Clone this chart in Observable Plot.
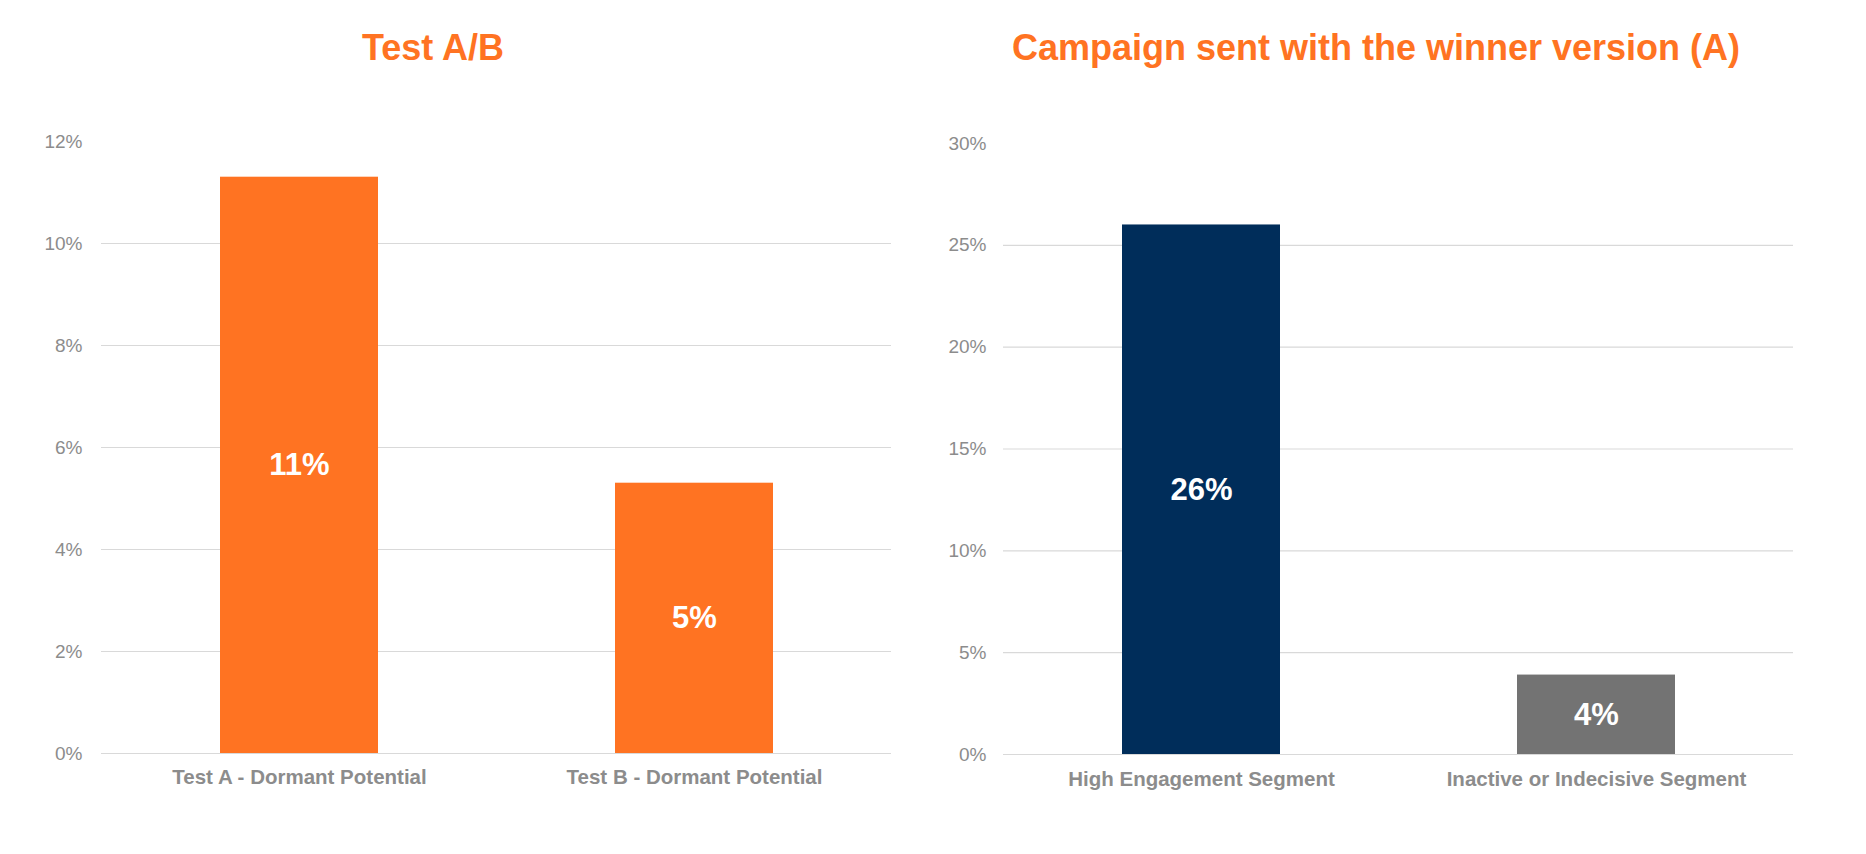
<!DOCTYPE html>
<html>
<head>
<meta charset="utf-8">
<script src="https://cdn.jsdelivr.net/npm/d3@7"></script>
<script src="https://cdn.jsdelivr.net/npm/@observablehq/plot@0.6"></script>
<style>
  html, body { margin: 0; padding: 0; background: #fff; }
  #wrap { position: relative; width: 1866px; height: 854px; overflow: hidden; font-family: "Liberation Sans", Arial, sans-serif; }
  .title { position: absolute; top: 30px; font-size: 36px; line-height: 36px; font-weight: bold; color: #FF7322; text-align: center; white-space: nowrap; }
  .chart { position: absolute; top: 0; }
</style>
</head>
<body>
<div id="wrap">
  <div class="title" style="left:33px;width:800px;">Test A/B</div>
  <div class="title" style="left:976px;width:800px;">Campaign sent with the winner version (A)</div>
  <div class="chart" id="left" style="left:0px;"></div>
  <div class="chart" id="right" style="left:933px;"></div>
</div>
<script>
// Left chart: Test A/B
const abCategories = ["Test A - Dormant Potential", "Test B - Dormant Potential"];
const abValues = [11.3, 5.3];
const abColors = ["#FF7322", "#FF7322"];
const abTicks = [0, 2, 4, 6, 8, 10, 12];

// Right chart: Campaign sent with the winner version (A)
const campCategories = ["High Engagement Segment", "Inactive or Indecisive Segment"];
const campValues = [26, 3.9];
const campColors = ["#002D5A", "#737373"];
const campTicks = [0, 5, 10, 15, 20, 25, 30];

function makeChart(cats, vals, cols, ticks, m) {
  const data = cats.map((c, i) => ({cat: c, v: vals[i], col: cols[i]}));
  const maxT = ticks[ticks.length - 1];
  return Plot.plot({
    width: 933,
    height: 854,
    marginLeft: m.left,
    marginRight: m.right,
    marginTop: m.top,
    marginBottom: m.bottom,
    style: {fontFamily: "'Liberation Sans', Arial, sans-serif", background: "transparent", overflow: "visible"},
    x: {domain: cats, paddingInner: 0.6, paddingOuter: 0.3, label: null},
    y: {domain: [0, maxT], label: null},
    marks: [
      Plot.ruleY(ticks.filter(t => t < maxT), {stroke: "#D9D9D9", strokeWidth: 1.2}),
      Plot.barY(data, {x: "cat", y: "v", fill: "col"}),
      Plot.text(data, {x: "cat", y: d => d.v / 2, text: d => Math.round(d.v) + "%", fill: "#FFFFFF", fontSize: 31, fontWeight: "bold"}),
      Plot.axisY({ticks: ticks, tickSize: 0, tickPadding: m.yPad, tickFormat: d => d + "%", fontSize: 19, fill: "#8C8C8C", label: null}),
      Plot.axisX({tickSize: 0, tickPadding: m.xPad, fontSize: 20.5, fontWeight: "bold", fill: "#8C8C8C", label: null})
    ]
  });
}

document.getElementById("left").appendChild(
  makeChart(abCategories, abValues, abColors, abTicks, {left: 101, right: 42, top: 141, bottom: 101, yPad: 19, xPad: 16})
);
document.getElementById("right").appendChild(
  makeChart(campCategories, campValues, campColors, campTicks, {left: 70, right: 73, top: 143, bottom: 100, yPad: 17, xPad: 17})
);
</script>
</body>
</html>
